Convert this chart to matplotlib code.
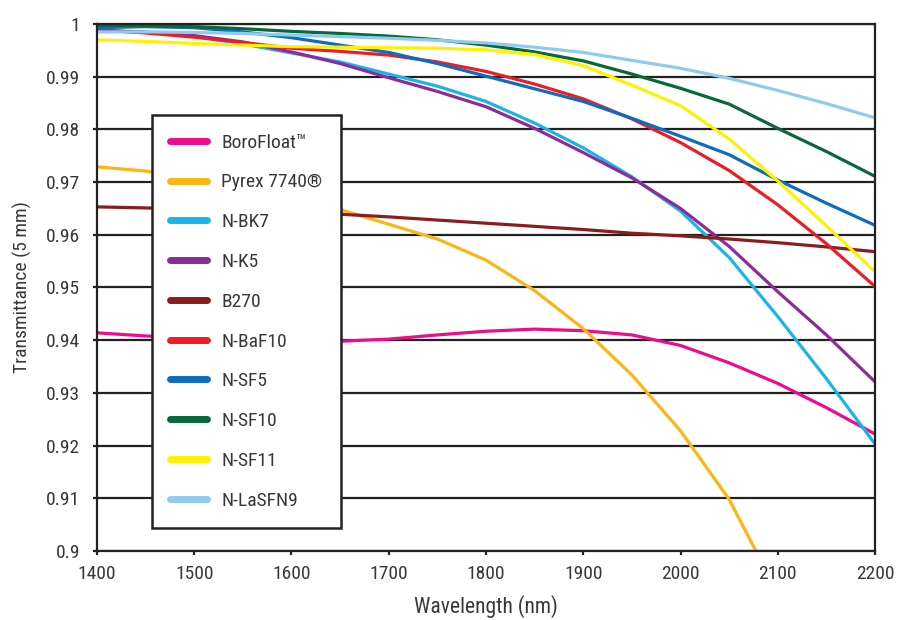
import numpy as np
import matplotlib
matplotlib.use('Agg')
import matplotlib.pyplot as plt
from matplotlib import font_manager

# pick a narrow font if one is around
installed = {f.name for f in font_manager.fontManager.ttflist}
for fam in ['Roboto Condensed', 'Liberation Sans Narrow', 'DejaVu Sans']:
    if fam in installed:
        break
plt.rcParams['font.family'] = [fam, 'DejaVu Sans']

# Data
wavelength = [1400, 1450, 1500, 1550, 1600, 1650, 1700, 1750, 1800,
              1850, 1900, 1950, 2000, 2050, 2100, 2150, 2200]

borofloat = [.9414, .9408, .9404, .9400, .9398, .9398, .9402, .9410, .9417,
             .9421, .9418, .9410, .9390, .9357, .9318, .9272, .9222]
pyrex = [.9729, .9721, .9708, .9692, .9672, .9648, .9620, .9592, .9552,
         .9494, .9422, .9334, .9228, .9098, .8920, np.nan, np.nan]
n_bk7 = [.9988, .9985, .9977, .9962, .9945, .9928, .9905, .9882, .9853,
         .9812, .9765, .9710, .9645, .9557, .9445, .9327, .9203]
n_k5 = [.9988, .9984, .9978, .9966, .9947, .9925, .9898, .9872, .9843,
        .9802, .9756, .9708, .9650, .9578, .9492, .9410, .9321]
b270 = [.9653, .9651, .9649, .9646, .9643, .9639, .9634, .9628, .9622,
        .9616, .9610, .9603, .9598, .9592, .9585, .9577, .9568]
n_baf10 = [.9989, .9983, .9975, .9965, .9954, .9948, .9941, .9928, .9910,
           .9886, .9858, .9820, .9775, .9722, .9657, .9583, .9502]
n_sf5 = [.9993, .9995, .9993, .9985, .9974, .9960, .9946, .9925, .9901,
         .9877, .9853, .9821, .9787, .9752, .9704, .9660, .9618]
n_sf10 = [.9998, .9997, .9995, .9991, .9986, .9982, .9977, .9970, .9960,
          .9947, .9930, .9905, .9878, .9848, .9802, .9758, .9711]
n_sf11 = [.9970, .9967, .9963, .9960, .9957, .9956, .9955, .9954, .9951,
          .9942, .9921, .9884, .9845, .9782, .9702, .9617, .9530]
n_lasfn9 = [.9985, .9985, .9984, .9982, .9979, .9976, .9973, .9969, .9964,
            .9956, .9946, .9931, .9916, .9897, .9874, .9849, .9822]

names = ['BoroFloat™', 'Pyrex 7740®', 'N-BK7', 'N-K5', 'B270',
         'N-BaF10', 'N-SF5', 'N-SF10', 'N-SF11', 'N-LaSFN9']
series = [borofloat, pyrex, n_bk7, n_k5, b270,
          n_baf10, n_sf5, n_sf10, n_sf11, n_lasfn9]
colors = ['#ec0c8c', '#fdb515', '#1ab4ec', '#8e2b9a', '#8b1d1d',
          '#ee1c24', '#0e6cc0', '#07683a', '#fff200', '#8fcbef']

xticks = [1400, 1500, 1600, 1700, 1800, 1900, 2000, 2100, 2200]
yticks = [0.9, 0.91, 0.92, 0.93, 0.94, 0.95, 0.96, 0.97, 0.98, 0.99, 1.0]
ytick_labels = ['0.9', '0.91', '0.92', '0.93', '0.94', '0.95',
                '0.96', '0.97', '0.98', '0.99', '1']

fig = plt.figure(figsize=(9.09, 6.2), dpi=100)
ax = fig.add_axes([0.1067, 0.1113, 0.8559, 0.85])

# horizontal grid lines
for yv in yticks:
    ax.axhline(yv, color='#222222', lw=1.6, zorder=1)

for name, vals, c in zip(names, series, colors):
    ax.plot(wavelength, vals, color=c, lw=2.3, label=name,
            solid_capstyle='round', zorder=3)

ax.set_xlim(1400, 2200)
ax.set_ylim(0.9, 1.0)
ax.set_xticks(xticks)
ax.set_yticks(yticks)
ax.set_yticklabels(ytick_labels)

for sp in ax.spines.values():
    sp.set_color('#222222')
    sp.set_linewidth(1.6)
    sp.set_zorder(4)

ax.tick_params(axis='both', colors='#222222', width=1.6, length=3,
               labelcolor='#383838', labelsize=14)
ax.tick_params(axis='x', pad=7)
ax.tick_params(axis='y', pad=9)

ax.set_xlabel('Wavelength (nm)', fontsize=15.5, color='#383838', labelpad=9)
ax.set_ylabel('Transmittance (5 mm)', fontsize=14, color='#383838', labelpad=10)

leg = ax.legend(loc='upper left', bbox_to_anchor=(0.0707, 0.827),
                fontsize=14, handlelength=1.9, handletextpad=0.7,
                labelspacing=1.12, borderpad=0.95, borderaxespad=0,
                fancybox=False, framealpha=1, edgecolor='#222222',
                labelcolor='#383838')
leg.get_frame().set_linewidth(1.8)
leg.set_zorder(5)
for h in leg.get_lines():
    h.set_linewidth(5)

plt.savefig('out.png', dpi=100)
